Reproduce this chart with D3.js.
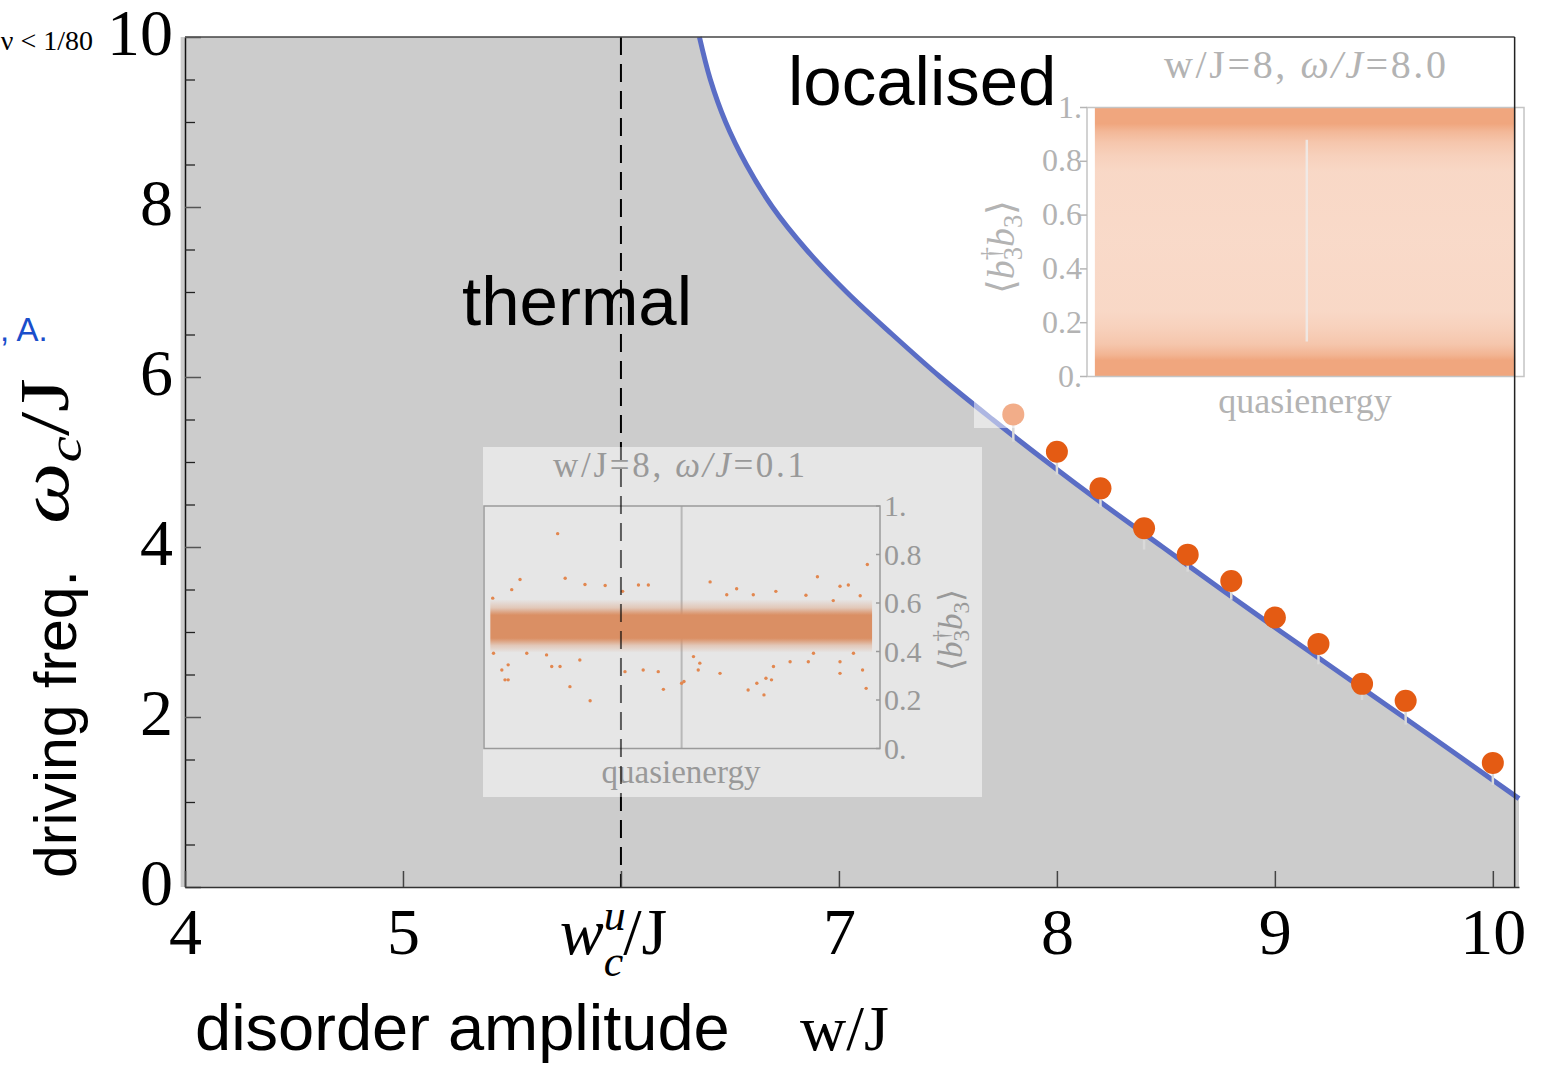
<!DOCTYPE html>
<html><head><meta charset="utf-8">
<script src="https://cdn.jsdelivr.net/npm/d3@7"></script>
<style>html,body{margin:0;padding:0;background:#fff;} svg{display:block;}</style>
</head><body><svg id="c" width="1542" height="1065"></svg>
<script>
// ---------- data ----------
const boundaryW = [6.36, 6.41, 6.48, 6.575, 6.695, 6.85, 7.035, 7.245, 7.465, 7.705, 7.955, 8.215, 8.485, 8.755, 9.03, 9.31, 9.59, 10.12];
const boundaryOmega = [10.0, 9.5, 9.0, 8.5, 8.0, 7.5, 7.0, 6.5, 6.0, 5.5, 5.0, 4.5, 4.0, 3.5, 3.0, 2.5, 2.0, 1.04];
const pointW = [7.8, 8.0, 8.2, 8.4, 8.6, 8.8, 9.0, 9.2, 9.4, 9.6, 10.0];
const pointOmega = [5.56, 5.12, 4.69, 4.22, 3.91, 3.60, 3.17, 2.86, 2.39, 2.19, 1.46];
const pointErrLow = [5.24, 4.85, 4.47, 3.97, 3.71, 3.38, 3.05, 2.62, 2.20, 1.91, 1.20];
const xTicks = [4, 5, 6, 7, 8, 9, 10];
const xTickLabels = ["4", "5", "wcu/J", "7", "8", "9", "10"];
const yTicks = [0, 2, 4, 6, 8, 10];
const yTickLabels = ["0", "2", "4", "6", "8", "10"];
const yMinorTicks = [0.5, 1, 1.5, 2.5, 3, 3.5, 4.5, 5, 5.5, 6.5, 7, 7.5, 8.5, 9, 9.5];
const criticalW = 6;

// inset tick data
const insetTicks = [0, 0.2, 0.4, 0.6, 0.8, 1];
const insetTickLabels = ["0.", "0.2", "0.4", "0.6", "0.8", "1."];
// lower-left inset (w/J=8, omega/J=0.1): dense band around 0.5 plus outliers
const lowQRange = [0.016, 0.98];
const lowBandV = [0.395, 0.425, 0.445, 0.455, 0.55, 0.56, 0.58, 0.615];
const lowBandD = [0.0, 0.35, 0.8, 1.0, 1.0, 0.8, 0.35, 0.0];
const lowOutQ = [0.186,0.091,0.205,0.07,0.255,0.306,0.39,0.415,0.35,0.571,0.638,0.613,0.68,0.737,0.842,0.899,0.92,0.968,0.022,0.95,0.813,0.882,0.024,0.045,0.061,0.053,0.061,0.217,0.268,0.171,0.192,0.242,0.356,0.402,0.44,0.453,0.499,0.505,0.541,0.545,0.596,0.667,0.689,0.707,0.712,0.731,0.726,0.773,0.819,0.899,0.899,0.965,0.956,0.832,0.933,0.108,0.158,0.529];
const lowOutV = [0.886,0.697,0.702,0.655,0.676,0.672,0.674,0.674,0.648,0.687,0.659,0.634,0.634,0.648,0.708,0.669,0.674,0.759,0.62,0.63,0.632,0.61,0.393,0.324,0.345,0.283,0.283,0.255,0.197,0.338,0.338,0.365,0.317,0.324,0.317,0.244,0.269,0.276,0.324,0.352,0.31,0.241,0.269,0.221,0.29,0.338,0.283,0.358,0.358,0.31,0.358,0.248,0.324,0.393,0.393,0.393,0.386,0.379];
// upper-right inset (w/J=8, omega/J=8.0): point density vs value
const upQRange = [0.018, 0.98];
const upDensV = [1.0, 0.94, 0.91, 0.87, 0.82, 0.76, 0.5, 0.24, 0.18, 0.12, 0.08, 0.06, 0.0];
const upDensD = [1.0, 1.0, 0.8, 0.64, 0.52, 0.44, 0.42, 0.44, 0.52, 0.64, 0.84, 1.0, 1.0];

// ---------- setup ----------
const SERIF = "'Liberation Serif','Times New Roman',serif";
const SANS = "'Liberation Sans',Arial,Helvetica,sans-serif";
const svg = d3.select("#c");
const x = d3.scaleLinear().domain([4, 10.12]).range([185, 1519]);
const y = d3.scaleLinear().domain([0, 10]).range([887, 37]);
const defs = svg.append("defs");
const smooth = d3.curveCatmullRom.alpha(0.5);

// ---------- thermal region ----------
const curvePts = boundaryW.map((w, i) => ({w: w, o: boundaryOmega[i]}));
svg.append("rect").attr("x", x(3.98)).attr("y", y(10)).attr("width", x(boundaryW[0]) - x(3.98) + 1).attr("height", y(0) - y(10)).attr("fill", "#cccccc");
svg.append("path")
  .attr("d", d3.area().curve(smooth).x(d => x(d.w)).y0(y(0)).y1(d => y(d.o))(curvePts))
  .attr("fill", "#cccccc");

// boundary curve
svg.append("path")
  .attr("d", d3.line().curve(smooth).x(d => x(d.w)).y(d => y(d.o))(curvePts))
  .attr("fill", "none").attr("stroke", "#5a6dc5").attr("stroke-width", 5);

// error ticks + points
const pts = pointW.map((w, i) => ({w: w, o: pointOmega[i], lo: pointErrLow[i]}));
svg.append("g").selectAll("line").data(pts).join("line")
  .attr("x1", d => x(d.w)).attr("x2", d => x(d.w))
  .attr("y1", d => y(d.o)).attr("y2", d => y(d.lo))
  .attr("stroke", "#d9d9d9").attr("stroke-width", 2.5);
svg.append("g").selectAll("circle").data(pts).join("circle")
  .attr("cx", d => x(d.w)).attr("cy", d => y(d.o)).attr("r", 11)
  .attr("fill", "#e45b13");

// ---------- upper-right inset ----------
svg.append("rect").attr("x", 974).attr("y", 0).attr("width", 568).attr("height", 428)
  .attr("fill", "#ffffff").attr("fill-opacity", 0.5);
const uqx = d3.scaleLinear().domain([0, 1]).range([1087, 1524]);
const uqy = d3.scaleLinear().domain([0, 1]).range([376.5, 107.5]);
const grad = defs.append("linearGradient").attr("id", "upgrad")
  .attr("gradientUnits", "userSpaceOnUse").attr("x1", 0).attr("x2", 0)
  .attr("y1", uqy(1)).attr("y2", uqy(0));
upDensV.forEach((v, i) => {
  grad.append("stop").attr("offset", (uqy(v) - uqy(1)) / (uqy(0) - uqy(1)))
    .attr("stop-color", "#f0a67e").attr("stop-opacity", upDensD[i]);
});
const up = svg.append("g");
up.append("rect").attr("x", uqx(upQRange[0])).attr("y", uqy(1)).attr("width", uqx(upQRange[1]) - uqx(upQRange[0]))
  .attr("height", uqy(0) - uqy(1)).attr("fill", "url(#upgrad)");
up.append("line").attr("x1", uqx(0.503)).attr("x2", uqx(0.503)).attr("y1", uqy(0.88)).attr("y2", uqy(0.13))
  .attr("stroke", "#eeeeee").attr("stroke-opacity", 0.8).attr("stroke-width", 2.5);
up.append("rect").attr("x", uqx(0)).attr("y", uqy(1)).attr("width", uqx(1) - uqx(0)).attr("height", uqy(0) - uqy(1))
  .attr("fill", "none").attr("stroke", "#c4c4c4").attr("stroke-width", 1.5);
up.append("g").selectAll("line").data(insetTicks).join("line")
  .attr("x1", 1080).attr("x2", 1087).attr("y1", d => uqy(d)).attr("y2", d => uqy(d))
  .attr("stroke", "#b5b5b5").attr("stroke-width", 1.5);
up.append("g").selectAll("text").data(insetTicks).join("text")
  .attr("x", 1082).attr("y", d => uqy(d) + 10).attr("text-anchor", "end")
  .attr("font-family", SERIF).attr("font-size", 32).attr("fill", "#b3b3b3")
  .text((d, i) => insetTickLabels[i]);
up.append("text").attr("x", 1305).attr("y", 413).attr("text-anchor", "middle")
  .attr("font-family", SERIF).attr("font-size", 36).attr("fill", "#b3b3b3").text("quasienergy");
function title(g, cx, by, fs, len, color, val) {
  const t = g.append("text").attr("x", cx).attr("y", by).attr("text-anchor", "middle")
    .attr("font-family", SERIF).attr("font-size", fs).attr("fill", color)
    .attr("textLength", len).attr("lengthAdjust", "spacing");
  t.append("tspan").text("w/J=8, ");
  t.append("tspan").attr("font-style", "italic").text("ω/J");
  t.append("tspan").text("=" + val);
}
title(up, 1305, 78, 40, 282, "#b3b3b3", "8.0");
function braket(g, cx, cy, fs, color) {
  const t = g.append("text").attr("transform", `translate(${cx},${cy}) rotate(-90)`)
    .attr("text-anchor", "middle").attr("font-family", SERIF).attr("font-size", fs).attr("fill", color);
  t.append("tspan").text("⟨");
  t.append("tspan").attr("font-style", "italic").text("b");
  t.append("tspan").attr("font-size", fs * 0.7).attr("dy", fs * 0.22).text("3");
  t.append("tspan").attr("font-size", fs * 0.7).attr("dx", -fs * 0.35).attr("dy", -fs * 0.6).text("†");
  t.append("tspan").attr("font-style", "italic").attr("dy", fs * 0.38).text("b");
  t.append("tspan").attr("font-size", fs * 0.7).attr("dy", fs * 0.22).text("3");
  t.append("tspan").attr("dy", -fs * 0.22).text("⟩");
}
braket(up, 1014, 247, 38, "#b3b3b3");

// ---------- lower-left inset ----------
const lo = svg.append("g");
lo.append("rect").attr("x", 483).attr("y", 447).attr("width", 499).attr("height", 350)
  .attr("fill", "#ffffff").attr("fill-opacity", 0.5);
const lqx = d3.scaleLinear().domain([0, 1]).range([484, 880]);
const lqy = d3.scaleLinear().domain([0, 1]).range([748.5, 506]);
const vTop = lowBandV[lowBandV.length - 1], vBot = lowBandV[0];
const lgrad = defs.append("linearGradient").attr("id", "lowgrad")
  .attr("gradientUnits", "userSpaceOnUse").attr("x1", 0).attr("x2", 0)
  .attr("y1", lqy(vTop)).attr("y2", lqy(vBot));
lowBandV.map((v, i) => [v, lowBandD[i]]).reverse().forEach(([v, d]) => {
  lgrad.append("stop")
    .attr("offset", (lqy(v) - lqy(vTop)) / (lqy(vBot) - lqy(vTop)))
    .attr("stop-color", "#da8f64").attr("stop-opacity", d);
});
lo.append("line").attr("x1", lqx(0.499)).attr("x2", lqx(0.499)).attr("y1", lqy(0)).attr("y2", lqy(1))
  .attr("stroke", "#b8b8b8").attr("stroke-width", 2);
lo.append("rect").attr("x", lqx(lowQRange[0])).attr("y", lqy(vTop))
  .attr("width", lqx(lowQRange[1]) - lqx(lowQRange[0]))
  .attr("height", lqy(vBot) - lqy(vTop))
  .attr("fill", "url(#lowgrad)");
lo.append("g").selectAll("circle").data(lowOutQ.map((q, i) => [q, lowOutV[i]])).join("circle")
  .attr("cx", d => lqx(d[0])).attr("cy", d => lqy(d[1])).attr("r", 1.7).attr("fill", "#e2874f");
lo.append("rect").attr("x", lqx(0)).attr("y", lqy(1)).attr("width", lqx(1) - lqx(0)).attr("height", lqy(0) - lqy(1))
  .attr("fill", "none").attr("stroke", "#9a9a9a").attr("stroke-width", 1.5);
lo.append("g").selectAll("line").data(insetTicks).join("line")
  .attr("x1", lqx(1) - 4).attr("x2", lqx(1)).attr("y1", d => lqy(d)).attr("y2", d => lqy(d))
  .attr("stroke", "#9a9a9a").attr("stroke-width", 1.5);
lo.append("g").selectAll("text").data(insetTicks).join("text")
  .attr("x", 884).attr("y", d => lqy(d) + 10).attr("text-anchor", "start")
  .attr("font-family", SERIF).attr("font-size", 30).attr("fill", "#999999")
  .text((d, i) => insetTickLabels[i]);
lo.append("text").attr("x", 681).attr("y", 783).attr("text-anchor", "middle")
  .attr("font-family", SERIF).attr("font-size", 33).attr("fill", "#999999").text("quasienergy");
title(lo, 679, 477, 35, 252, "#999999", "0.1");
braket(lo, 962, 630, 33, "#999999");

// ---------- region labels ----------
svg.append("text").attr("x", 462).attr("y", 325).attr("font-family", SANS).attr("font-size", 69).attr("fill", "#000").text("thermal");
svg.append("text").attr("x", 788).attr("y", 105).attr("font-family", SANS).attr("font-size", 69).attr("fill", "#000").text("localised");

// ---------- dashed critical line ----------
defs.append("clipPath").attr("id", "outInset").append("path")
  .attr("d", "M0,0H1542V447H0Z M0,797H1542V1065H0Z");
defs.append("clipPath").attr("id", "inInset").append("rect")
  .attr("x", 0).attr("y", 447).attr("width", 1542).attr("height", 350);
[["outInset", 1], ["inInset", 0.6]].forEach(([cid, op]) => {
  svg.append("line").attr("clip-path", `url(#${cid})`)
    .attr("x1", x(criticalW)).attr("x2", x(criticalW)).attr("y1", y(10)).attr("y2", y(0))
    .attr("stroke", "#000").attr("stroke-opacity", op).attr("stroke-width", 2).attr("stroke-dasharray", "18,9");
});

// ---------- frame & axes ----------
svg.append("line").attr("x1", x(4)).attr("x2", x(10.1)).attr("y1", y(10)).attr("y2", y(10)).attr("stroke", "#444").attr("stroke-width", 1.5);
svg.append("line").attr("x1", x(10.1)).attr("x2", x(10.1)).attr("y1", y(10)).attr("y2", y(0)).attr("stroke", "#222").attr("stroke-width", 1.5);

const yAxis = svg.append("g").attr("transform", `translate(${x(4)},0)`)
  .call(d3.axisLeft(y).tickValues(yTicks).tickSizeInner(-16).tickSizeOuter(0).tickPadding(12)
    .tickFormat((d, i) => yTickLabels[i]));
yAxis.select(".domain").attr("stroke", "#111").attr("stroke-width", 1.5);
yAxis.selectAll(".tick line").attr("stroke", "#555").attr("stroke-width", 1.5);
yAxis.selectAll(".tick text").attr("font-family", SERIF).attr("font-size", 66).attr("fill", "#000").attr("dy", "0.27em");
const yMinor = svg.append("g").attr("transform", `translate(${x(4)},0)`)
  .call(d3.axisLeft(y).tickValues(yMinorTicks).tickSizeInner(-10).tickSizeOuter(0).tickFormat(""));
yMinor.select(".domain").remove();
yMinor.selectAll(".tick line").attr("stroke", "#222").attr("stroke-width", 1.3);

const xAxis = svg.append("g").attr("transform", `translate(0,${y(0)})`)
  .call(d3.axisBottom(x).tickValues(xTicks).tickSizeInner(-16).tickSizeOuter(0).tickPadding(20)
    .tickFormat((d, i) => xTickLabels[i]));
xAxis.select(".domain").attr("stroke", "#333").attr("stroke-width", 1.5);
xAxis.selectAll(".tick line").attr("stroke", "#444").attr("stroke-width", 1.5);
xAxis.selectAll(".tick text").attr("font-family", SERIF).attr("font-size", 66).attr("fill", "#000");
xAxis.selectAll(".tick text").filter(d => d === criticalW).each(function () {
  const t = d3.select(this).text("").attr("dx", -8);
  t.append("tspan").attr("font-style", "italic").text("w");
  t.append("tspan").attr("font-style", "italic").attr("font-size", 44).attr("dy", -24).text("u");
  t.append("tspan").attr("font-style", "italic").attr("font-size", 44).attr("dx", -22).attr("dy", 46).text("c");
  t.append("tspan").attr("dy", -22).text("/J");
});

// axis titles
svg.append("text").attr("x", 195).attr("y", 1050).attr("font-family", SANS).attr("font-size", 65).attr("fill", "#000").text("disorder amplitude");
svg.append("text").attr("x", 800).attr("y", 1050).attr("font-family", SERIF).attr("font-size", 64).attr("fill", "#000").text("w/J");

svg.append("text").attr("transform", "translate(76,878) rotate(-90)")
  .attr("font-family", SANS).attr("font-size", 60).attr("fill", "#000")
  .attr("textLength", 308).attr("lengthAdjust", "spacingAndGlyphs").text("driving freq.");
const yt = svg.append("text").attr("transform", "translate(68,524) rotate(-90)")
  .attr("font-family", SERIF).attr("font-size", 70).attr("fill", "#000")
  .attr("textLength", 146).attr("lengthAdjust", "spacingAndGlyphs");
yt.append("tspan").attr("font-style", "italic").text("ω");
yt.append("tspan").attr("font-style", "italic").attr("font-size", 48).attr("dy", 13).text("c");
yt.append("tspan").attr("dy", -13).text("/J");

// fragments from surrounding page
svg.append("text").attr("x", 93).attr("y", 50).attr("text-anchor", "end")
  .attr("font-family", SERIF).attr("font-size", 28).attr("fill", "#000").text("ν < 1/80");
svg.append("text").attr("x", 0).attr("y", 341)
  .attr("font-family", SANS).attr("font-size", 33).attr("fill", "#1a4ecb").text(", A.");
</script></body></html>
